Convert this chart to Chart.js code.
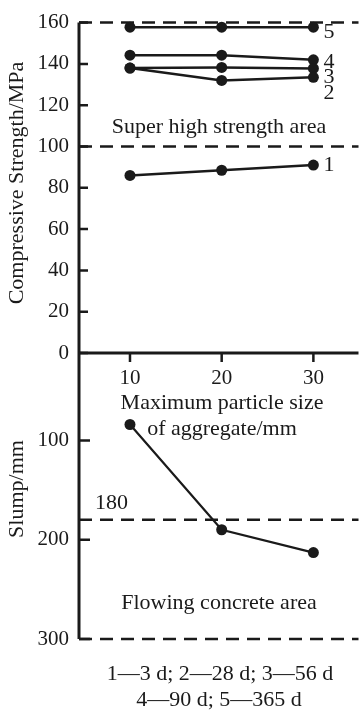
<!DOCTYPE html>
<html>
<head>
<meta charset="utf-8">
<script src="https://cdn.jsdelivr.net/npm/chart.js@4.4.1/dist/chart.umd.min.js"></script>
<style>
  body { margin: 0; background: #fff; }
  #wrap { position: relative; width: 364px; height: 711px; }
  #wrap canvas { position: absolute; left: 0; top: 0; }
</style>
</head>
<body>
<div id="wrap">
  <canvas id="strengthChart" width="364" height="711"></canvas>
  <canvas id="slumpChart" width="364" height="711"></canvas>
</div>
<script>
// data
const particleSizes = [10, 20, 30];
const strength3d = [86, 88.5, 91];
const strength28d = [138, 132, 133.5];
const strength56d = [138, 138.3, 137.8];
const strength90d = [144.2, 144.2, 142];
const strength365d = [157.8, 157.8, 157.8];
const curveNames = ['1', '2', '3', '4', '5'];
const slumpValues = [84, 190, 213];

const strengthTicks = [0, 20, 40, 60, 80, 100, 120, 140, 160];
const sizeTicks = [10, 20, 30];
const slumpTicks = [100, 200, 300];
const strengthLines = [160, 100];
const slumpLines = [180, 300];

const serif = '"Liberation Serif", "Times New Roman", serif';
const ink = '#1a1a1a';

function font(px) { return px + 'px ' + serif; }

function dashedLine(ctx, area, y) {
    ctx.save();
    ctx.strokeStyle = ink;
    ctx.lineWidth = 2.5;
    ctx.setLineDash([13, 8]);
    ctx.beginPath();
    ctx.moveTo(area.left, y);
    ctx.lineTo(area.right, y);
    ctx.stroke();
    ctx.restore();
}

function text(ctx, str, x, y, size, align) {
    ctx.save();
    ctx.fillStyle = ink;
    ctx.font = font(size);
    ctx.textAlign = align || 'center';
    ctx.textBaseline = 'middle';
    ctx.fillText(str, x, y);
    ctx.restore();
}

function vText(ctx, str, x, y, size) {
    ctx.save();
    ctx.translate(x, y);
    ctx.rotate(-Math.PI / 2);
    text(ctx, str, 0, 0, size);
    ctx.restore();
}

function lineSet(values) {
    return {
        data: particleSizes.map((x, i) => ({ x: x, y: values[i] })),
        borderColor: ink,
        backgroundColor: ink,
        borderWidth: 2.5,
        pointRadius: 5.5,
        pointBorderWidth: 0,
        tension: 0,
        clip: false
    };
}

function sizeScale(display) {
    return {
        type: 'linear',
        display: display,
        min: 4.44,
        max: 34.92,
        afterBuildTicks: s => { s.ticks = sizeTicks.map(v => ({ value: v })); },
        grid: { display: false, drawTicks: false },
        border: { display: false },
        ticks: { color: ink, font: { family: serif, size: 21 }, padding: 13 },
        afterFit: s => { s.height = display ? 358 : 0; }
    };
}

const strengthDecor = {
    id: 'strengthDecor',
    beforeDatasetsDraw(chart) {
        const ctx = chart.ctx, a = chart.chartArea;
        const y = chart.scales.y, x = chart.scales.x;
        strengthLines.forEach(v => dashedLine(ctx, a, y.getPixelForValue(v)));
        ctx.save();
        ctx.strokeStyle = ink;
        ctx.lineWidth = 3;
        ctx.beginPath();
        ctx.moveTo(a.left, a.top);
        ctx.lineTo(a.left, a.bottom);
        ctx.moveTo(a.left, a.bottom);
        ctx.lineTo(a.right, a.bottom);
        ctx.stroke();
        ctx.lineWidth = 2.5;
        ctx.beginPath();
        strengthTicks.forEach(v => {
            const py = y.getPixelForValue(v);
            ctx.moveTo(a.left, py);
            ctx.lineTo(a.left + 9, py);
        });
        sizeTicks.forEach(v => {
            const px = x.getPixelForValue(v);
            ctx.moveTo(px, a.bottom);
            ctx.lineTo(px, a.bottom + 9);
        });
        ctx.stroke();
        ctx.restore();
    },
    afterDatasetsDraw(chart) {
        const ctx = chart.ctx;
        const x = chart.scales.x, y = chart.scales.y;
        const shift = [0, 16, 9, 2, 5];
        chart.data.datasets.forEach((ds, i) => {
            const last = ds.data[ds.data.length - 1];
            text(ctx, curveNames[i], x.getPixelForValue(last.x) + 10,
                y.getPixelForValue(last.y) + shift[i], 22, 'left');
        });
        text(ctx, 'Super high strength area', 219, 127, 22);
        text(ctx, 'Maximum particle size', 222, 403, 22);
        text(ctx, 'of aggregate/mm', 222, 429, 22);
        vText(ctx, 'Compressive Strength/MPa', 17, 183, 22);
    }
};

const slumpDecor = {
    id: 'slumpDecor',
    beforeDatasetsDraw(chart) {
        const ctx = chart.ctx, a = chart.chartArea;
        const y = chart.scales.y;
        slumpLines.forEach(v => dashedLine(ctx, a, y.getPixelForValue(v)));
        ctx.save();
        ctx.strokeStyle = ink;
        ctx.lineWidth = 3;
        ctx.beginPath();
        ctx.moveTo(a.left, a.top);
        ctx.lineTo(a.left, a.bottom);
        ctx.stroke();
        ctx.lineWidth = 2.5;
        ctx.beginPath();
        slumpTicks.forEach(v => {
            const py = y.getPixelForValue(v);
            ctx.moveTo(a.left, py);
            ctx.lineTo(a.left + 11, py);
        });
        ctx.stroke();
        ctx.restore();
    },
    afterDatasetsDraw(chart) {
        const ctx = chart.ctx;
        const y = chart.scales.y;
        text(ctx, String(slumpLines[0]), 95, y.getPixelForValue(slumpLines[0]) - 17, 22, 'left');
        text(ctx, 'Flowing concrete area', 219, 603, 22);
        vText(ctx, 'Slump/mm', 17, 489, 22);
        text(ctx, '1\u20143 d; 2\u201428 d; 3\u201456 d', 220, 674, 22);
        text(ctx, '4\u201490 d; 5\u2014365 d', 219, 700, 22);
    }
};

const common = {
    responsive: false,
    animation: false,
    plugins: { legend: { display: false }, tooltip: { enabled: false } }
};

new Chart(document.getElementById('strengthChart'), {
    type: 'line',
    data: {
        datasets: [strength3d, strength28d, strength56d, strength90d, strength365d].map(lineSet)
    },
    options: Object.assign({}, common, {
        layout: { padding: { top: 16, left: 0, right: 0, bottom: 0 } },
        scales: {
            x: sizeScale(true),
            y: {
                min: 0,
                max: 160,
                afterBuildTicks: s => { s.ticks = strengthTicks.map(v => ({ value: v })); },
                grid: { display: false, drawTicks: false },
                border: { display: false },
                ticks: { color: ink, font: { family: serif, size: 21 }, padding: 10 },
                afterFit: s => { s.width = 79; }
            }
        }
    }),
    plugins: [strengthDecor]
});

new Chart(document.getElementById('slumpChart'), {
    type: 'line',
    data: {
        datasets: [Object.assign(lineSet(slumpValues), { borderWidth: 2.2 })]
    },
    options: Object.assign({}, common, {
        layout: { padding: { top: 353, left: 0, right: 0, bottom: 72 } },
        scales: {
            x: sizeScale(false),
            y: {
                reverse: true,
                min: 12,
                max: 300,
                afterBuildTicks: s => { s.ticks = slumpTicks.map(v => ({ value: v })); },
                grid: { display: false, drawTicks: false },
                border: { display: false },
                ticks: { color: ink, font: { family: serif, size: 21 }, padding: 10 },
                afterFit: s => { s.width = 79; }
            }
        }
    }),
    plugins: [slumpDecor]
});
</script>
</body>
</html>
